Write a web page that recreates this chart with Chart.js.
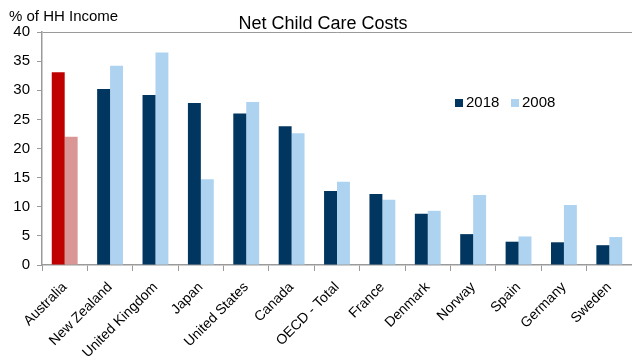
<!DOCTYPE html>
<html>
<head>
<meta charset="utf-8">
<script src="https://cdn.jsdelivr.net/npm/chart.js@4/dist/chart.umd.min.js"></script>
<style>
  html, body { margin: 0; padding: 0; background: #ffffff; }
  #wrap { width: 632px; height: 358px; position: relative; }
</style>
</head>
<body>
<div id="wrap"><canvas id="chart"></canvas></div>
<script>
// Net child care costs, % of household income
var categories = ['Australia', 'New Zealand', 'United Kingdom', 'Japan', 'United States', 'Canada',
    'OECD - Total', 'France', 'Denmark', 'Norway', 'Spain', 'Germany', 'Sweden'];
var values2018 = [33.1, 30.2, 29.2, 27.8, 26.0, 23.8, 12.7, 12.2, 8.8, 5.3, 4.0, 3.9, 3.4];
var values2008 = [22.0, 34.2, 36.5, 14.7, 28.0, 22.6, 14.3, 11.2, 9.3, 12.0, 4.9, 10.3, 4.8];
var yTicks = [0, 5, 10, 15, 20, 25, 30, 35, 40];

var NAVY = '#003660';
var LIGHT = '#aed3f0';
var RED = '#c00000';
var PINK = '#d99694';
var AXIS = '#9a9a9a';
var FONT = "'Liberation Sans', Arial, sans-serif";

// Australia is highlighted in red tones
function colours(base, highlight) {
    return categories.map(function (c) { return c === 'Australia' ? highlight : base; });
}

var series = [
    { label: '2018', data: values2018, color: NAVY, highlight: RED },
    { label: '2008', data: values2008, color: LIGHT, highlight: PINK }
];

// caption, title and in-plot legend
var annotations = {
    id: 'annotations',
    afterDraw: function (chart) {
        var ctx = chart.ctx;
        ctx.save();
        ctx.fillStyle = '#000';
        ctx.textBaseline = 'alphabetic';
        ctx.textAlign = 'left';
        ctx.font = '15px ' + FONT;
        ctx.fillText('% of HH Income', 9, 21);

        ctx.textAlign = 'center';
        ctx.font = '18px ' + FONT;
        ctx.fillText('Net Child Care Costs', 323, 29);

        ctx.textAlign = 'left';
        ctx.textBaseline = 'middle';
        ctx.font = '15px ' + FONT;
        var lx = [455, 511];
        series.forEach(function (s, i) {
            ctx.fillStyle = s.color;
            ctx.fillRect(lx[i], 99, 8, 8);
            ctx.fillStyle = '#000';
            ctx.fillText(s.label, lx[i] + 11, 103);
        });
        ctx.restore();
    }
};

new Chart(document.getElementById('chart'), {
    type: 'bar',
    data: {
        labels: categories,
        datasets: series.map(function (s) {
            return {
                label: s.label,
                data: s.data,
                backgroundColor: colours(s.color, s.highlight),
                borderWidth: 0,
                categoryPercentage: 0.57,
                barPercentage: 1.0
            };
        })
    },
    options: {
        responsive: true,
        maintainAspectRatio: false,
        animation: false,
        layout: { padding: { top: 32, right: 0, left: 0, bottom: 0 } },
        plugins: {
            legend: { display: false },
            title: { display: false },
            tooltip: { enabled: false }
        },
        scales: {
            x: {
                offset: true,
                afterFit: function (scale) { scale.height = 93; },
                grid: { offset: true, drawOnChartArea: false, tickLength: 6, color: AXIS },
                border: { color: AXIS, width: 1.5 },
                ticks: {
                    color: '#000',
                    font: { family: FONT, size: 14 },
                    maxRotation: 45,
                    minRotation: 45,
                    autoSkip: false,
                    padding: 8
                }
            },
            y: {
                min: 0,
                max: 40,
                afterBuildTicks: function (scale) {
                    scale.ticks = yTicks.map(function (v) { return { value: v }; });
                },
                afterFit: function (scale) { scale.width = 42; },
                grid: {
                    color: function (c) { return c.tick && c.tick.value === 40 ? AXIS : 'rgba(0,0,0,0)'; },
                    tickColor: AXIS,
                    tickLength: 5
                },
                border: { color: AXIS, width: 1.5 },
                ticks: {
                    color: '#000',
                    font: { family: FONT, size: 15 },
                    padding: 7
                }
            }
        }
    },
    plugins: [annotations]
});
</script>
</body>
</html>
